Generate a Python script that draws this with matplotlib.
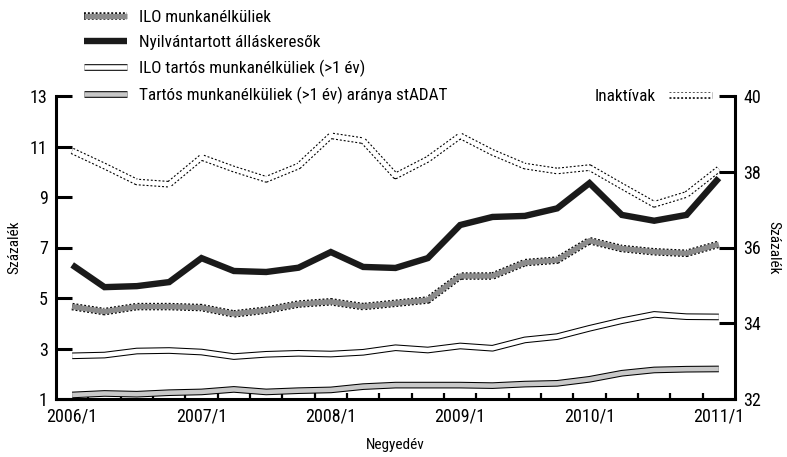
import matplotlib
matplotlib.use("Agg")
import matplotlib.pyplot as plt
from matplotlib import font_manager
from matplotlib.legend_handler import HandlerTuple

# condensed face if one is around, else DejaVu
names = {f.name for f in font_manager.fontManager.ttflist}
stretches = {(f.name, f.stretch) for f in font_manager.fontManager.ttflist}
family = 'DejaVu Sans'
for cand in ['Liberation Sans Narrow', 'Roboto Condensed', 'Open Sans Condensed', 'DejaVu Sans Condensed']:
    if cand in names:
        family = cand
        break
plt.rcParams['font.family'] = [family, 'DejaVu Sans']
if family == 'DejaVu Sans' and any(n == 'DejaVu Sans' and s == 'condensed' for n, s in stretches):
    plt.rcParams['font.stretch'] = 'condensed'
plt.rcParams['lines.scale_dashes'] = False

# quarters 2006/1 .. 2011/1
quarters = list(range(21))
tick_labels = ["2006/1", "2007/1", "2008/1", "2009/1", "2010/1", "2011/1"]

ilo_unemp = [4.66, 4.46, 4.66, 4.66, 4.62, 4.37, 4.52, 4.76, 4.85, 4.66, 4.79,
             4.92, 5.87, 5.87, 6.40, 6.50, 7.27, 6.96, 6.83, 6.77, 7.13]
registered = [6.31, 5.43, 5.47, 5.63, 6.58, 6.07, 6.03, 6.20, 6.82, 6.23, 6.19,
              6.58, 7.89, 8.21, 8.25, 8.55, 9.55, 8.29, 8.06, 8.29, 9.75]
ilo_longterm = [2.71, 2.74, 2.90, 2.92, 2.86, 2.68, 2.77, 2.81, 2.78, 2.85, 3.03,
                2.94, 3.10, 3.01, 3.34, 3.47, 3.80, 4.10, 4.35, 4.26, 4.25]
stadat_longterm = [1.16, 1.22, 1.19, 1.25, 1.28, 1.38, 1.28, 1.33, 1.36, 1.49, 1.55,
                   1.55, 1.55, 1.53, 1.59, 1.62, 1.78, 2.02, 2.15, 2.18, 2.19]
inactive = [38.55, 38.15, 37.73, 37.67, 38.38, 38.07, 37.80, 38.15, 38.95, 38.82, 37.89,
            38.33, 38.95, 38.51, 38.15, 38.02, 38.11, 37.62, 37.14, 37.40, 38.07]

fig = plt.figure(figsize=(7.87, 4.57), dpi=100)
ax = fig.add_axes([56/787, 1 - 399/457, (735 - 56)/787, (399 - 96)/457])
ax2 = ax.twinx()

dots = (0, (1.4, 1.4))

# right axis: inactive (white with dotted edges)
i_out, = ax2.plot(quarters, inactive, color='black', lw=4.8, ls=dots, solid_capstyle='butt')
i_in, = ax2.plot(quarters, inactive, color='white', lw=3.2, solid_capstyle='butt')

# left axis series
s_out, = ax.plot(quarters, stadat_longterm, color='black', lw=4.8, solid_capstyle='butt', solid_joinstyle='round')
s_in, = ax.plot(quarters, stadat_longterm, color='#c8c8c8', lw=3.3, solid_capstyle='butt', solid_joinstyle='round')
t_out, = ax.plot(quarters, ilo_longterm, color='black', lw=4.8, solid_capstyle='butt', solid_joinstyle='round')
t_in, = ax.plot(quarters, ilo_longterm, color='white', lw=3.3, solid_capstyle='butt', solid_joinstyle='round')
u_out, = ax.plot(quarters, ilo_unemp, color='black', lw=5.4, ls=dots, dash_capstyle='butt')
u_in, = ax.plot(quarters, ilo_unemp, color='#8c8c8c', lw=3.8, solid_capstyle='butt', solid_joinstyle='round')
r_line, = ax.plot(quarters, registered, color='#1a1a1a', lw=4.6, solid_capstyle='butt', solid_joinstyle='miter')

ax.set_xlim(-0.5, 20.5)
ax.set_ylim(1, 13)
ax2.set_ylim(32, 40)

ax.set_yticks([1, 3, 5, 7, 9, 11, 13])
ax2.set_yticks([32, 34, 36, 38, 40])
ax.set_xticks(quarters[::4])
ax.set_xticklabels(tick_labels)
ax.set_xticks([q + 0.5 for q in quarters[:-1]], minor=True)

for a in (ax, ax2):
    a.spines['top'].set_visible(False)
    for s in a.spines.values():
        s.set_linewidth(2.2)
ax.spines['right'].set_visible(False)
ax2.spines['left'].set_visible(False)
ax2.spines['bottom'].set_visible(False)

ax.tick_params(axis='y', direction='in', length=11.5, width=2.2, labelsize=13, pad=6)
ax2.tick_params(axis='y', direction='in', length=11.5, width=2.2, labelsize=13, pad=6)
ax.tick_params(axis='x', which='major', length=0, labelsize=13, pad=6)
ax.tick_params(axis='x', which='minor', direction='in', length=4.5, width=1.6)

ax.set_ylabel("Százalék", fontsize=11, labelpad=6)
ax2.set_ylabel("Százalék", fontsize=11, rotation=-90, labelpad=14)
ax.set_xlabel("Negyedév", fontsize=11, labelpad=9)

leg = fig.legend([(u_out, u_in), r_line, (t_out, t_in), (s_out, s_in)],
                 ["ILO munkanélküliek", "Nyilvántartott álláskeresők",
                  "ILO tartós munkanélküliek (>1 év)", "Tartós munkanélküliek (>1 év) aránya stADAT"],
                 handler_map={tuple: HandlerTuple(ndivide=1)},
                 loc='upper left', bbox_to_anchor=(84/787, 1 - 10/457), frameon=False,
                 fontsize=12.3, handlelength=2.5, handletextpad=0.7, labelspacing=0.58,
                 borderaxespad=0, borderpad=0)
leg2 = fig.legend([(i_out, i_in)], ["Inaktívak"],
                  handler_map={tuple: HandlerTuple(ndivide=1)},
                  loc='upper right', bbox_to_anchor=(712/787, 1 - 89/457), frameon=False,
                  fontsize=12.3, handlelength=2.5, handletextpad=0.8, markerfirst=False,
                  borderaxespad=0, borderpad=0)

fig.savefig("out.png", dpi=100)
